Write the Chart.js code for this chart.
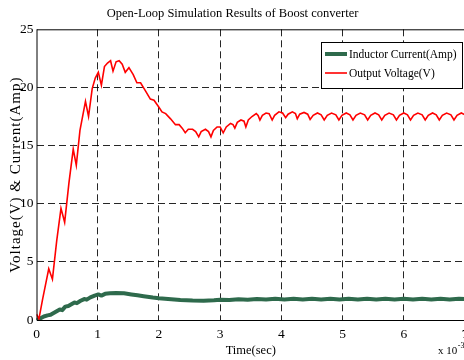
<!DOCTYPE html>
<html>
<head>
<meta charset="utf-8">
<script src="https://cdn.jsdelivr.net/npm/chart.js@4.4.1/dist/chart.umd.min.js"></script>
<style>
  html, body { margin: 0; padding: 0; background: #fff; overflow: hidden; }
  #wrap { width: 465px; height: 360px; position: relative; }
</style>
</head>
<body>
<div id="wrap"><canvas id="c"></canvas></div>
<script>
// ---- Data (time in ms, i.e. x 10^-3 s) ----
const chartTitle = 'Open-Loop Simulation Results of Boost converter';
const xTitle = 'Time(sec)';
const yTitle = 'Voltage(V) & Current(Amp)';
const xTickLabels = ['0', '1', '2', '3', '4', '5', '6', '7'];
const yTickLabels = ['0', '5', '10', '15', '20', '25'];

const currentLabel = 'Inductor Current(Amp)';
const currentTime = [0, 0.05, 0.12, 0.18, 0.23, 0.28, 0.33, 0.38, 0.42, 0.47, 0.52, 0.57, 0.62, 0.66, 0.72, 0.78, 0.82, 0.88, 0.95, 1.01, 1.06, 1.12, 1.2, 1.3, 1.43, 1.55, 1.65, 1.75, 1.9, 2.0, 2.15, 2.35, 2.55, 2.73, 2.9, 3.0, 3.15, 3.3, 3.45, 3.6, 3.75, 3.9, 4.05, 4.2, 4.35, 4.5, 4.65, 4.8, 4.95, 5.1, 5.25, 5.4, 5.55, 5.7, 5.85, 6.0, 6.15, 6.3, 6.45, 6.6, 6.75, 6.9, 7.0];
const currentValue = [0, 0.1, 0.3, 0.4, 0.45, 0.6, 0.75, 0.9, 0.85, 1.15, 1.2, 1.35, 1.5, 1.45, 1.65, 1.8, 1.75, 1.95, 2.1, 2.2, 2.1, 2.25, 2.3, 2.32, 2.3, 2.2, 2.12, 2.05, 1.93, 1.87, 1.8, 1.72, 1.67, 1.65, 1.7, 1.75, 1.72, 1.78, 1.75, 1.8, 1.76, 1.82, 1.77, 1.82, 1.77, 1.82, 1.77, 1.82, 1.77, 1.82, 1.77, 1.82, 1.77, 1.82, 1.77, 1.82, 1.77, 1.82, 1.77, 1.82, 1.77, 1.82, 1.8];

const voltageLabel = 'Output Voltage(V)';
const voltageTime = [0, 0.04, 0.1, 0.2, 0.26, 0.33, 0.40, 0.46, 0.53, 0.60, 0.65, 0.71, 0.80, 0.85, 0.91, 0.96, 1.01, 1.06, 1.11, 1.16, 1.21, 1.25, 1.30, 1.35, 1.40, 1.45, 1.51, 1.58, 1.64, 1.70, 1.78, 1.86, 1.92, 2.0, 2.05, 2.11, 2.19, 2.27, 2.33, 2.38, 2.43, 2.48, 2.55, 2.60, 2.65, 2.69, 2.76, 2.81, 2.85, 2.89, 2.95, 3.0, 3.05, 3.10, 3.17, 3.21, 3.24, 3.28, 3.34, 3.39, 3.42, 3.46, 3.52, 3.59, 3.62, 3.65, 3.69, 3.75, 3.80, 3.85, 3.89, 3.96, 4.02, 4.07, 4.11, 4.18, 4.23, 4.26, 4.30, 4.37, 4.43, 4.47, 4.52, 4.59, 4.65, 4.70, 4.75, 4.82, 4.89, 4.94, 4.99, 5.06, 5.12, 5.17, 5.22, 5.29, 5.36, 5.41, 5.46, 5.53, 5.59, 5.64, 5.69, 5.76, 5.83, 5.88, 5.93, 6.00, 6.06, 6.11, 6.16, 6.23, 6.30, 6.35, 6.40, 6.47, 6.53, 6.58, 6.63, 6.70, 6.77, 6.82, 6.87, 6.94, 7.0];
const voltageValue = [0.5, 0.1, 1.8, 4.4, 3.5, 6.8, 9.6, 8.4, 11.8, 14.7, 13.3, 16.3, 18.8, 17.5, 19.9, 20.8, 21.3, 20.2, 21.8, 22.1, 22.3, 21.4, 22.2, 22.3, 22.0, 21.3, 21.7, 21.1, 20.4, 20.4, 19.7, 19.0, 18.9, 18.3, 17.9, 17.75, 17.3, 16.8, 16.8, 16.5, 16.1, 16.4, 16.4, 16.2, 15.75, 16.2, 16.4, 16.2, 15.75, 16.3, 16.6, 16.6, 16.1, 16.6, 16.9, 16.8, 16.5, 17.0, 17.2, 17.1, 16.6, 17.2, 17.5, 17.75, 17.6, 17.2, 17.6, 17.8, 17.75, 17.2, 17.6, 17.9, 17.8, 17.4, 17.7, 17.9, 17.75, 17.3, 17.7, 17.85, 17.7, 17.25, 17.6, 17.8, 17.65, 17.2, 17.6, 17.8, 17.65, 17.2, 17.6, 17.8, 17.65, 17.2, 17.6, 17.8, 17.65, 17.2, 17.6, 17.8, 17.65, 17.2, 17.6, 17.8, 17.65, 17.2, 17.6, 17.8, 17.65, 17.2, 17.6, 17.8, 17.65, 17.2, 17.6, 17.8, 17.65, 17.2, 17.6, 17.8, 17.65, 17.2, 17.6, 17.8, 17.65, 17.4];

const exponentBase = 'x 10';
const exponentPower = '-3';

// ---- Chart ----
const SERIF = "'Liberation Serif', 'Times New Roman', serif";
const GREEN = '#2e6a4c';
const RED = '#ff0000';

const toPts = (xs, ys) => xs.map((x, i) => ({ x: x, y: ys[i] }));

const framePlugin = {
  id: 'frame',
  beforeDraw(chart) {
    const s = chart.scales.y;
    if (s && !s.__spaced) {
      const orig = s.drawTitle;
      s.drawTitle = function () {
        const c = this.ctx;
        c.save();
        c.letterSpacing = '1px';
        orig.apply(this, arguments);
        c.restore();
      };
      s.__spaced = true;
    }
  },
  afterDatasetsDraw(chart) {
    const { ctx, chartArea: a } = chart;
    ctx.save();
    ctx.strokeStyle = '#000';
    ctx.lineWidth = 1;
    ctx.beginPath();
    ctx.moveTo(a.left + 0.5, a.top + 0.5);
    ctx.lineTo(a.right, a.top + 0.5);
    ctx.moveTo(a.left + 0.5, a.top);
    ctx.lineTo(a.left + 0.5, a.bottom + 0.5);
    ctx.lineTo(a.right, a.bottom + 0.5);
    ctx.stroke();

    // legend box
    const lx = 321, ly = 42, lw = 142, lh = 47;
    ctx.fillStyle = '#fff';
    ctx.fillRect(lx, ly, lw, lh);
    ctx.strokeRect(lx + 0.5, ly + 0.5, lw - 1, lh - 1);
    const ds = chart.data.datasets;
    const rows = [ds[1], ds[0]];
    const ys = [54, 73];
    ctx.font = '11.5px ' + SERIF;
    ctx.textBaseline = 'middle';
    ctx.textAlign = 'left';
    rows.forEach((d, i) => {
      ctx.strokeStyle = d.borderColor;
      ctx.lineWidth = d.borderWidth;
      ctx.beginPath();
      ctx.moveTo(325, ys[i]);
      ctx.lineTo(347, ys[i]);
      ctx.stroke();
      ctx.fillStyle = '#000';
      ctx.fillText(d.label, 349, ys[i] + 0.5);
    });

    // exponent label
    ctx.fillStyle = '#000';
    ctx.textBaseline = 'alphabetic';
    ctx.font = '11px ' + SERIF;
    ctx.fillText(exponentBase, 438, 354);
    const w = ctx.measureText(exponentBase).width;
    ctx.font = '8px ' + SERIF;
    ctx.fillText(exponentPower, 438 + w + 0.5, 348);
    ctx.restore();
  }
};

new Chart(document.getElementById('c'), {
  type: 'line',
  data: {
    datasets: [
      {
        label: voltageLabel,
        data: toPts(voltageTime, voltageValue),
        borderColor: RED,
        borderWidth: 1.6,
        pointRadius: 0,
        tension: 0,
        fill: false,
        order: 0
      },
      {
        label: currentLabel,
        data: toPts(currentTime, currentValue),
        borderColor: GREEN,
        borderWidth: 4,
        pointRadius: 0,
        tension: 0,
        fill: false,
        borderJoinStyle: 'round',
        borderCapStyle: 'round',
        order: 1
      }
    ]
  },
  options: {
    responsive: true,
    maintainAspectRatio: false,
    animation: false,
    events: [],
    layout: { padding: 0 },
    plugins: {
      legend: { display: false },
      tooltip: { enabled: false },
      title: {
        display: true,
        text: chartTitle,
        color: '#000',
        font: { family: SERIF, size: 12.5, weight: 'normal' },
        padding: { top: 6, bottom: 8.3 }
      }
    },
    scales: {
      x: {
        type: 'linear',
        min: 0,
        max: 7,
        afterFit(s) { s.height = 40; s.paddingLeft = 0; s.paddingRight = 0; },
        ticks: {
          stepSize: 1,
          color: '#000',
          padding: 6,
          font: { family: SERIF, size: 13.5 },
          callback: (v) => xTickLabels[Math.round(v)] ?? ''
        },
        grid: {
          color: (c) => (c.tick && (c.tick.value === 0 || c.tick.value === 7)) ? 'rgba(0,0,0,0)' : 'rgba(0,0,0,0.85)',
          lineWidth: 1,
          drawTicks: false
        },
        border: { display: false, dash: [7, 4] },
        title: {
          display: true,
          text: xTitle,
          color: '#000',
          font: { family: SERIF, size: 12.5 },
          padding: { top: 0, bottom: 1.5 }
        }
      },
      y: {
        type: 'linear',
        min: 0,
        max: 25,
        afterFit(s) { s.width = 36.5; s.paddingTop = 0; s.paddingBottom = 0; },
        ticks: {
          stepSize: 5,
          color: '#000',
          padding: 3,
          font: { family: SERIF, size: 13.5 },
          callback: (v) => yTickLabels[Math.round(v / 5)] ?? ''
        },
        grid: {
          color: (c) => (c.tick && (c.tick.value === 0 || c.tick.value === 25)) ? 'rgba(0,0,0,0)' : 'rgba(0,0,0,0.85)',
          lineWidth: 1,
          drawTicks: false
        },
        border: { display: false, dash: [7, 4] },
        title: {
          display: true,
          text: yTitle,
          color: '#000',
          font: { family: SERIF, size: 15 },
          padding: { top: 7, bottom: 0 }
        }
      }
    }
  },
  plugins: [framePlugin]
});
</script>
</body>
</html>
